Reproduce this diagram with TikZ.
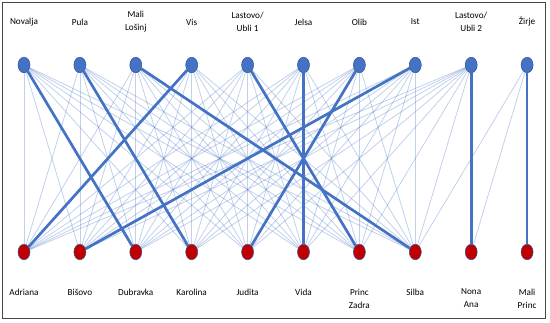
\documentclass[tikz,border=0pt]{standalone}
\usepackage{fontspec}
\setmainfont{Carlito}
\usepackage{tikz}
\usetikzlibrary{shapes.geometric,backgrounds}

\definecolor{linkblue}{RGB}{68,114,196}
\definecolor{rimblue}{RGB}{47,82,143}
\definecolor{shipred}{RGB}{192,0,0}

\begin{document}
\begin{tikzpicture}[
        x=1pt,
        y=-1pt,
        font=\fontsize{9.2}{13}\selectfont,
        port/.style={ellipse, fill=linkblue, draw=rimblue, line width=0.5pt, minimum width=12pt, minimum height=15.5pt, inner sep=0pt},
        ship/.style={ellipse, fill=shipred, draw=rimblue, line width=0.5pt, minimum width=12pt, minimum height=15.5pt, inner sep=0pt},
        feeder/.style={linkblue, line width=0.8pt, draw opacity=0.33},
        main/.style={linkblue, line width=2.7pt},
        tag/.style={align=center, inner sep=0pt},
        frame/.style={draw=gray!55!black, line width=1.4pt}
    ]
        \useasboundingbox (0,0) rectangle (550,322);
        \draw[frame] (2.5,2.5) rectangle (545.5,318.5);

        % islands (top) and ships (bottom)
        \foreach \lab [count=\i] in {Novalja,Pula,{Mali\\Lošinj},Vis,{Lastovo/\\Ubli 1},Jelsa,Olib,Ist,{Lastovo/\\Ubli 2},Žirje} {
            \node[port] (port\i) at ({24+55.9*(\i-1)},65) {};
            \node[tag] (portlab\i) at ({24+55.9*(\i-1)},22) {\lab};
        }
        \foreach \lab [count=\i] in {Adriana,Bišovo,Dubravka,Karolina,Judita,Vida,{Princ\\Zadra},Silba,{Nona\\Ana},{Mali\\Princ}} {
            \node[ship] (ship\i) at ({24+55.9*(\i-1)},252) {};
            \node[tag, anchor=north] (shiplab\i) at ({24+55.9*(\i-1)},288.5) {\lab};
        }

        \begin{scope}[on background layer]
            \foreach \p in {1,...,9} {
                \foreach \s in {1,...,8} {
                    \draw[feeder] (port\p) -- (ship\s);
                }
            }
            \draw[feeder] (port10) -- (ship8);
            \draw[feeder] (port10) -- (ship9);

            \foreach \p/\s in {1/3,2/4,3/8,4/1,5/7,6/6,7/5,8/2,9/9,10/10} {
                \draw[main] (port\p) -- (ship\s);
            }
        \end{scope}
    \end{tikzpicture}
\end{document}
